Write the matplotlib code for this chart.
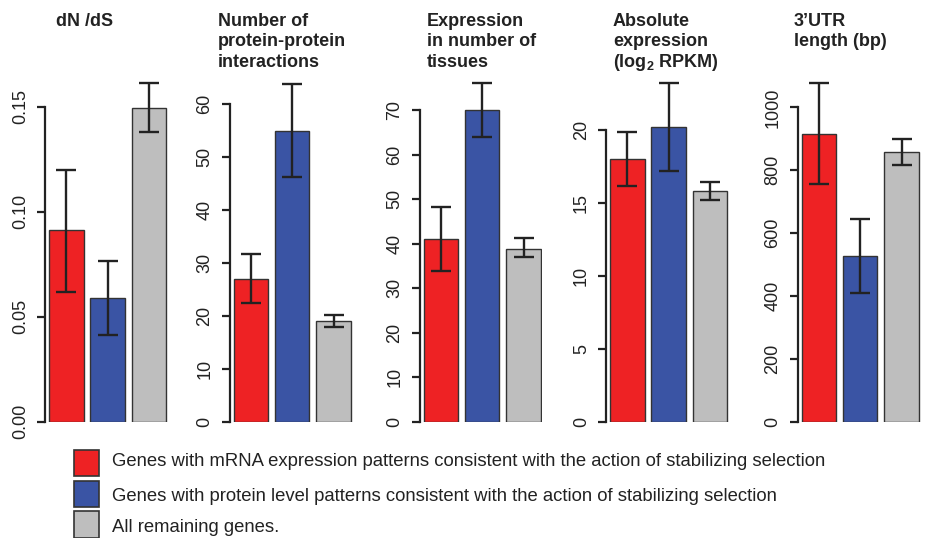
import matplotlib
matplotlib.use("Agg")
import matplotlib.pyplot as plt
from matplotlib.patches import Rectangle

plt.rcParams['font.family'] = ['Liberation Sans', 'DejaVu Sans']
plt.rcParams['mathtext.fontset'] = 'custom'
plt.rcParams['mathtext.rm'] = 'Liberation Sans:bold'
plt.rcParams['mathtext.bf'] = 'Liberation Sans:bold'
plt.rcParams['mathtext.default'] = 'bf'

# values: mean, lower and upper end of error bar
dnds = [0.091, 0.0588, 0.1495]
dnds_lo = [0.0616, 0.0413, 0.138]
dnds_hi = [0.120, 0.0765, 0.161]

ppi = [27.0, 55.0, 19.0]
ppi_lo = [22.4, 46.2, 17.9]
ppi_hi = [31.7, 63.8, 20.2]

tissues = [41.0, 70.0, 38.9]
tissues_lo = [33.8, 64.0, 36.9]
tissues_hi = [48.2, 76.0, 41.2]

absexp = [18.0, 20.2, 15.86]
absexp_lo = [16.15, 17.18, 15.22]
absexp_hi = [19.86, 23.26, 16.47]

utr = [914, 527, 857]
utr_lo = [755, 408, 817]
utr_hi = [1077, 645, 899]

titles = [
    ["dN /dS"],
    ["Number of", "protein-protein", "interactions"],
    ["Expression", "in number of", "tissues"],
    ["Absolute", "expression", "(log$_{2}$ RPKM)"],
    ["3\u2019UTR", "length (bp)"],
]
tick_vals = [
    [0, 0.05, 0.10, 0.15],
    [0, 10, 20, 30, 40, 50, 60],
    [0, 10, 20, 30, 40, 50, 60, 70],
    [0, 5, 10, 15, 20],
    [0, 200, 400, 600, 800, 1000],
]
tick_labels = [
    ["0.00", "0.05", "0.10", "0.15"],
    None, None, None, None,
]
ymax = [0.165, 65.5, 77.9, 23.8, 1103]

legend_labels = [
    "Genes with mRNA expression patterns consistent with the action of stabilizing selection",
    "Genes with protein level patterns consistent with the action of stabilizing selection",
    "All remaining genes.",
]
colors = ["#EE2224", "#3A54A4", "#BEBEBE"]

means = [dnds, ppi, tissues, absexp, utr]
lows = [dnds_lo, ppi_lo, tissues_lo, absexp_lo, utr_lo]
highs = [dnds_hi, ppi_hi, tissues_hi, absexp_hi, utr_hi]

W, H = 926, 538
fig = plt.figure(figsize=(W / 100, H / 100), dpi=100)

axis_x = [45, 229.5, 419.5, 606, 797.5]
title_x = [56, 218, 427, 613, 794]
y0, ytop = 421.7, 75
xpos = [0, 1.2, 2.4]

for i in range(5):
    ax = fig.add_axes([axis_x[i] / W, 1 - y0 / H, 123 / W, (y0 - ytop) / H])
    m = means[i]
    err = [[m[k] - lows[i][k] for k in range(3)], [highs[i][k] - m[k] for k in range(3)]]
    ax.bar(xpos, m, width=1, align='edge', color=colors, edgecolor='#333333', linewidth=1.0)
    ax.errorbar([x + 0.5 for x in xpos], m, yerr=err, fmt='none', ecolor='#222222',
                elinewidth=1.7, capsize=7.5, capthick=1.7)
    ax.set_xlim(-0.12, 3.45)
    ax.set_ylim(0, ymax[i])
    for s in ['top', 'right', 'bottom']:
        ax.spines[s].set_visible(False)
    ax.spines['left'].set_linewidth(1.6)
    ax.spines['left'].set_color('#222222')
    ax.spines['left'].set_bounds(0, tick_vals[i][-1])
    ax.set_xticks([])
    ax.set_yticks(tick_vals[i])
    if tick_labels[i] is not None:
        ax.set_yticklabels(tick_labels[i])
    else:
        ax.set_yticklabels([str(v) for v in tick_vals[i]])
    ax.tick_params(axis='y', length=6, width=1.6, color='#222222', pad=5.5,
                   labelsize=13, labelcolor='#222222')
    for lab in ax.get_yticklabels():
        lab.set_rotation(90)
        lab.set_va('center')
    for j, line in enumerate(titles[i]):
        fig.text(title_x[i] / W, 1 - (25.7 + 20.8 * j) / H, line, fontsize=13,
                 fontweight='bold', color='#222222', ha='left', va='baseline')

# legend
box_y = [449.7, 480.5, 511.3]
text_base = [466.5, 501.3, 532.5]
for k in range(3):
    fig.add_artist(Rectangle((74 / W, 1 - (box_y[k] + 26.5) / H), 25 / W, 26.5 / H,
                             transform=fig.transFigure, facecolor=colors[k],
                             edgecolor='#333333', linewidth=1.2))
    fig.text(111.5 / W, 1 - text_base[k] / H, legend_labels[k], fontsize=13.3,
             color='#222222', ha='left', va='baseline')

fig.savefig("out.png", dpi=100)
